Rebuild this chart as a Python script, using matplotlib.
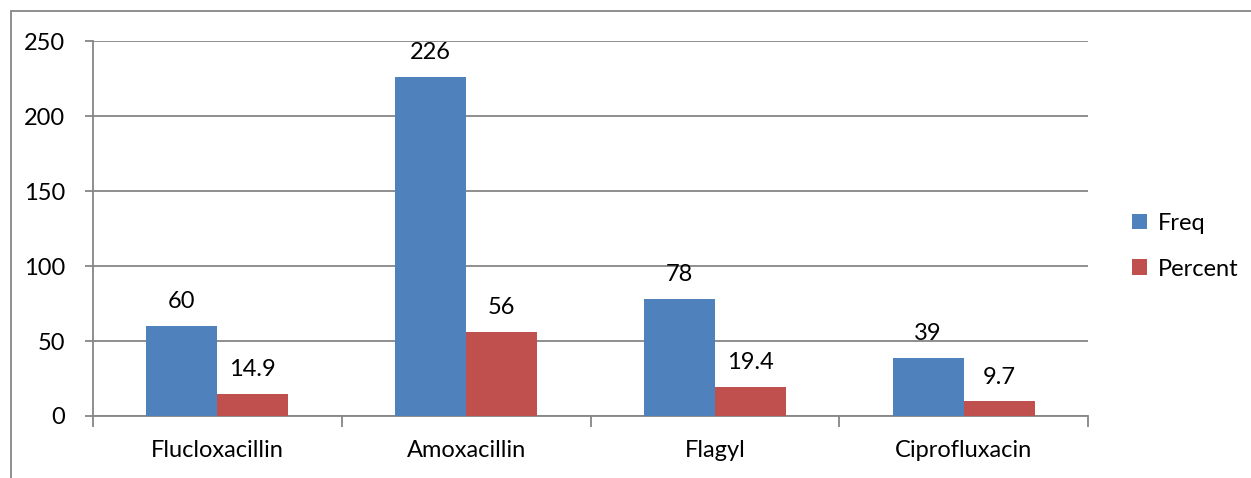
import numpy as np
import matplotlib.pyplot as plt
from matplotlib.patches import Rectangle

categories = ['Flucloxacillin', 'Amoxacillin', 'Flagyl', 'Ciprofluxacin']
freq = [60, 226, 78, 39]
percent = [14.9, 56, 19.4, 9.7]
freq_labels = ['60', '226', '78', '39']
percent_labels = ['14.9', '56', '19.4', '9.7']

plt.rcParams['font.family'] = ['Lato', 'DejaVu Sans']
fs = 17

W, H = 1251, 478
fig = plt.figure(figsize=(W / 100, H / 100), dpi=100)
ax = fig.add_axes([93 / W, 1 - 416 / H, (1088 - 93) / W, (416 - 41) / H])

# outer chart border (only top/left visible in the crop)
fig.patches.append(Rectangle((11 / W, -0.1), 1.2, 1 - 11 / H + 0.1,
                             transform=fig.transFigure, fill=False,
                             edgecolor='#868686', linewidth=1.3))

x = np.arange(len(categories))
bw = 0.285
b1 = ax.bar(x - bw / 2, freq, bw, color='#4F81BD', label='Freq', zorder=3)
b2 = ax.bar(x + bw / 2, percent, bw, color='#C0504D', label='Percent', zorder=3)

for bars, labs in ((b1, freq_labels), (b2, percent_labels)):
    for rect, lab in zip(bars, labs):
        ax.annotate(lab, (rect.get_x() + rect.get_width() / 2, rect.get_height()),
                    xytext=(0, 10), textcoords='offset points', ha='center',
                    va='bottom', fontsize=fs)

ax.set_xlim(-0.5, len(categories) - 0.5)
ax.set_ylim(0, 250)
ax.set_yticks(range(0, 251, 50))
ax.yaxis.grid(True, color='#868686', linewidth=1.3, zorder=0)
ax.tick_params(axis='y', length=6, color='#868686', width=1.3, labelsize=fs, pad=14)
ax.set_xticks(x)
ax.set_xticklabels(categories)
ax.tick_params(axis='x', length=0, labelsize=fs, pad=17)
ax.set_xticks(np.arange(-0.5, len(categories)), minor=True)
ax.tick_params(axis='x', which='minor', length=8, color='#868686', width=1.3)

for s in ['top', 'right']:
    ax.spines[s].set_visible(False)
for s in ['left', 'bottom']:
    ax.spines[s].set_color('#868686')
    ax.spines[s].set_linewidth(1.3)

ax.legend(loc='center left', bbox_to_anchor=(1.023, 0.453), frameon=False,
          fontsize=fs, handlelength=0.65, handleheight=0.65, handletextpad=0.45,
          labelspacing=1.05)

fig.savefig('out.png', dpi=100)
